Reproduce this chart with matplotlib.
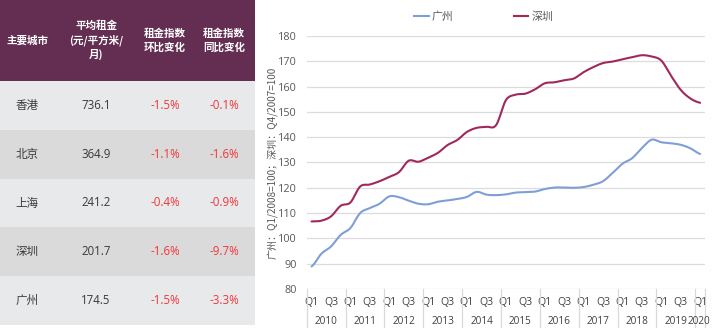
import numpy as np
import matplotlib
matplotlib.use("Agg")
import matplotlib.pyplot as plt
from matplotlib.patches import Rectangle
from matplotlib.lines import Line2D
import matplotlib.transforms as mtransforms

plt.rcParams['font.family'] = ['Open Sans', 'Noto Sans CJK SC', 'DejaVu Sans']

# ---------------- data ----------------
table_header = ["主要城市", "平均租金\n(元/平方米/\n月)", "租金指数\n环比变化", "租金指数\n同比变化"]
cities = ["香港", "北京", "上海", "深圳", "广州"]
avg_rent = ["736.1", "364.9", "241.2", "201.7", "174.5"]
qoq_change = ["-1.5%", "-1.1%", "-0.4%", "-1.6%", "-1.5%"]
yoy_change = ["-0.1%", "-1.6%", "-0.9%", "-9.7%", "-3.3%"]

years = list(range(2010, 2021))
quarters = [f"Q{q}" for y in years for q in (1, 2, 3, 4)][:41]
quarter_year = [y for y in years for q in (1, 2, 3, 4)][:41]

guangzhou = [88.9, 93.9, 96.8, 101.4, 104.1, 110.0, 112.0, 113.7, 116.6, 116.3,
             114.9, 113.7, 113.5, 114.5, 115.0, 115.6, 116.4, 118.4, 117.3, 117.1,
             117.4, 118.1, 118.3, 118.5, 119.5, 120.1, 120.1, 120.0, 120.3, 121.2,
             122.6, 125.9, 129.5, 131.7, 135.7, 139.0, 138.0, 137.6, 137.0, 135.6,
             133.4]
shenzhen = [106.7, 107.0, 108.7, 112.9, 114.2, 120.5, 121.3, 122.6, 124.3, 126.2,
            130.7, 130.3, 131.9, 133.8, 136.9, 138.9, 142.1, 143.7, 144.1, 144.8,
            154.6, 156.8, 157.2, 158.9, 161.3, 161.7, 162.5, 163.2, 165.7, 167.7,
            169.3, 169.9, 170.8, 171.6, 172.4, 171.9, 170.3, 164.3, 158.7, 155.3,
            153.6]

series_names = ["广州", "深圳"]
series_colors = ["#7F9ED8", "#A0285C"]

W, H = 717, 328
fig = plt.figure(figsize=(W / 100, H / 100), dpi=100)

# ---------------- table panel ----------------
tw = 255
axt = fig.add_axes([0, 0, tw / W, 1])
axt.set_xlim(0, tw)
axt.set_ylim(H, 0)
axt.axis("off")

header_h = 81
row_h = 48.8
col_x = [27, 96, 165, 224]
axt.add_patch(Rectangle((0, 0), tw, header_h, color="#632E51", lw=0))
for cx, txt in zip(col_x, table_header):
    axt.text(cx, header_h / 2, txt, color="white", fontsize=7.6, fontweight="bold",
             ha="center", va="center", linespacing=1.35,
             family=['Noto Sans CJK SC', 'DejaVu Sans'])

row_colors = ["#E8E9EB", "#DADADA"]
for i in range(len(cities)):
    y0 = header_h + i * row_h
    axt.add_patch(Rectangle((0, y0), tw, row_h, color=row_colors[i % 2], lw=0))
    yc = y0 + row_h / 2
    axt.text(col_x[0], yc, cities[i], color="#3A3A3A", fontsize=8.3,
             ha="center", va="center", family=['Noto Sans CJK SC', 'DejaVu Sans'])
    axt.text(col_x[1], yc, avg_rent[i], color="#3A3A3A", fontsize=8.3,
             ha="center", va="center")
    axt.text(col_x[2], yc, qoq_change[i], color="#F2353A", fontsize=8.3,
             ha="center", va="center")
    axt.text(col_x[3], yc, yoy_change[i], color="#F2353A", fontsize=8.3,
             ha="center", va="center")

# ---------------- line chart ----------------
left, right, top, bottom = 306.7, 705, 36, 289
ax = fig.add_axes([left / W, 1 - bottom / H, (right - left) / W, (bottom - top) / H])


def smooth(y, n=12):
    """Catmull-Rom curve through the quarterly points."""
    y = np.asarray(y, float)
    x = np.arange(len(y), dtype=float)
    p = np.concatenate([[y[0]], y, [y[-1]]])
    xs, ys = [], []
    t = np.linspace(0, 1, n, endpoint=False)
    for i in range(len(y) - 1):
        p0, p1, p2, p3 = p[i], p[i + 1], p[i + 2], p[i + 3]
        seg = 0.5 * ((2 * p1) + (-p0 + p2) * t + (2 * p0 - 5 * p1 + 4 * p2 - p3) * t ** 2
                     + (-p0 + 3 * p1 - 3 * p2 + p3) * t ** 3)
        xs.append(x[i] + t)
        ys.append(seg)
    xs.append([x[-1]])
    ys.append([y[-1]])
    return np.concatenate(xs), np.concatenate(ys)


handles = []
for vals, name, col in zip([guangzhou, shenzhen], series_names, series_colors):
    sx, sy = smooth(vals)
    ax.plot(sx, sy, color=col, lw=1.5, solid_capstyle="round", zorder=3)
    handles.append(Line2D([], [], color=col, lw=1.5, label=name))

ax.set_xlim(-0.5, len(quarters) - 0.5)
ax.set_ylim(80, 180)
ax.set_yticks(np.arange(80, 181, 10))
ax.grid(axis="y", color="#DCDCDC", lw=0.9)
ax.set_axisbelow(True)
for s in ax.spines.values():
    s.set_visible(False)
ax.tick_params(axis="y", length=0, pad=7, labelsize=7.8, labelcolor="#595959")

q_idx = [i for i, q in enumerate(quarters) if q in ("Q1", "Q3")]
ax.set_xticks(q_idx, [quarters[i] for i in q_idx])
ax.tick_params(axis="x", length=0, pad=6, labelsize=7.6, labelcolor="#404040")

# year group labels and separators below the axis
trans = mtransforms.blended_transform_factory(ax.transData, ax.transAxes)
sep_depth = (H - bottom) / (bottom - top)
bounds = [-0.5]
for y in years:
    idx = [i for i, yy in enumerate(quarter_year) if yy == y]
    bounds.append(idx[-1] + 0.5)
    cx = (idx[0] + idx[-1]) / 2 if len(idx) > 1 else idx[0] - 0.1
    ax.text(cx, -sep_depth * 0.83, str(y), transform=trans, ha="center", va="center",
            fontsize=7.2, color="#404040")
for b in bounds:
    ax.plot([b, b], [0, -sep_depth], transform=trans, color="#D9D9D9", lw=0.9,
            clip_on=False)

ax.text(-0.087, 0.5, "广州：Q1/2008=100；深圳：Q4/2007=100", transform=ax.transAxes,
        rotation=90, ha="center", va="center", fontsize=7.2, color="#595959",
        family=['Noto Sans CJK SC', 'DejaVu Sans'])

fig.legend(handles=handles, loc="center", bbox_to_anchor=(483.5 / W, 1 - 17 / H),
           ncol=2, frameon=False, fontsize=7.8, handlelength=1.35, handletextpad=0.25,
           columnspacing=5.6, labelcolor="#595959",
           prop={'family': ['Noto Sans CJK SC', 'DejaVu Sans'], 'size': 7.8})

fig.savefig("out.png", dpi=100)
